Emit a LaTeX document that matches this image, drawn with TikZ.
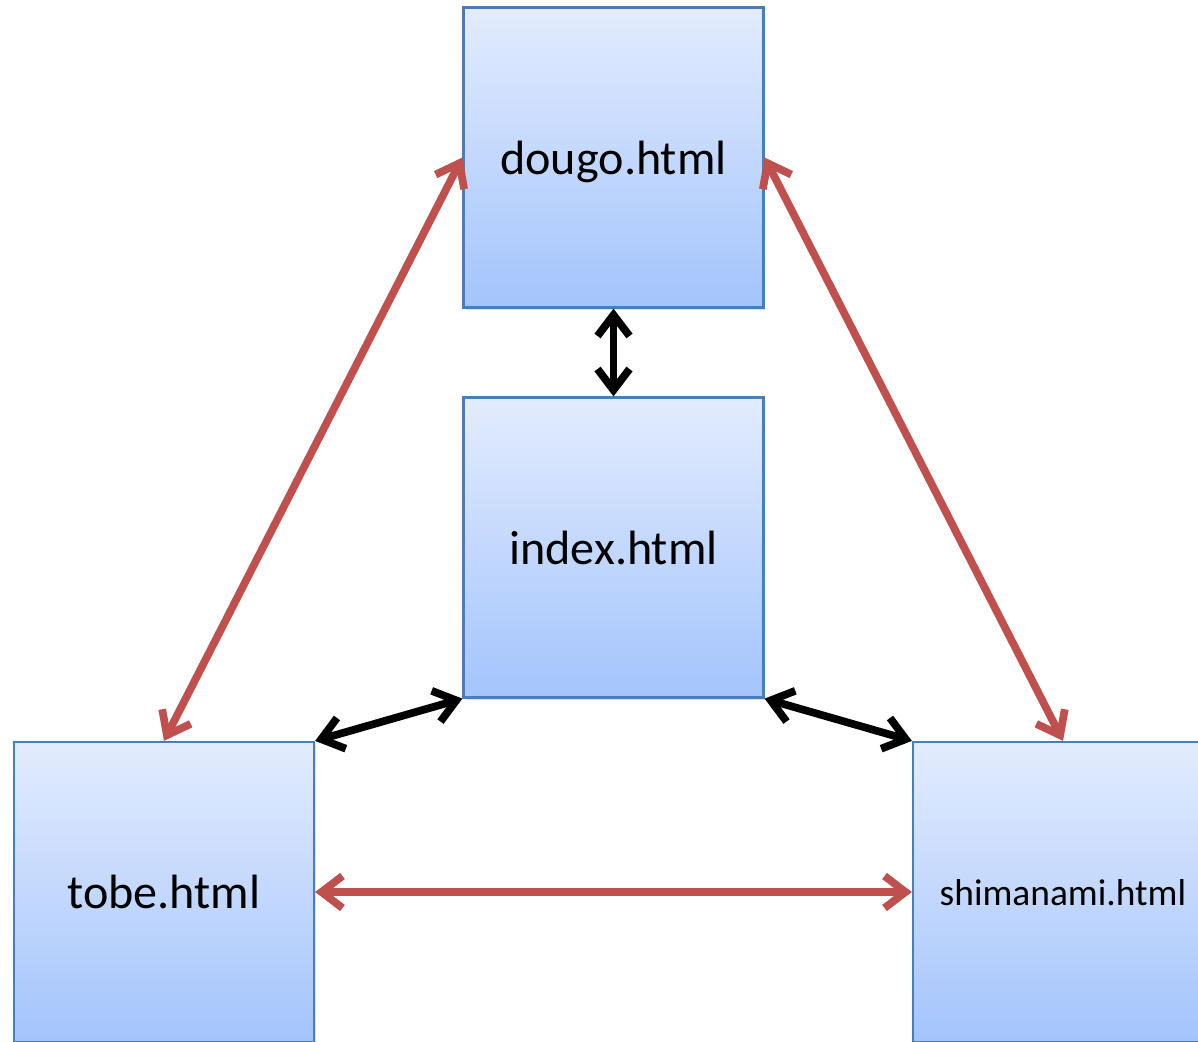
\documentclass[tikz,border=0pt]{standalone}
\usepackage{fontspec}
\setmainfont{Carlito}
\usetikzlibrary{arrows.meta,shadows}
\definecolor{pagetop}{HTML}{E3ECFE}
\definecolor{pagebottom}{HTML}{A3C4FC}
\definecolor{pageline}{HTML}{4A7EBB}
\definecolor{linkred}{HTML}{C0504D}

\begin{document}
\begin{tikzpicture}[x=0.02cm, y=-0.02cm,
    page/.style={draw=pageline, line width=1.3pt, top color=pagetop, bottom color=pagebottom,
        minimum width=6cm, minimum height=6cm, inner sep=0pt, text depth=0pt,
        font=\fontsize{27.4}{30}\selectfont,
        drop shadow={opacity=0.25, shadow xshift=0.04cm, shadow yshift=-0.06cm}},
    link/.style={line width=4.4pt, line cap=round, line join=round,
        {Straight Barb[length=0.42cm, width=0.64cm]}-{Straight Barb[length=0.42cm, width=0.64cm]}}]
    \useasboundingbox (0,0) rectangle (1198,1042);
    \clip (0,0) rectangle (1198,1042);

    % Pages
    \node[page] (dougo) at (613.5,157.5) {dougo.html};
    \node[page] (index) at (613.5,547.5) {index.html};
    \node[page] (tobe) at (164,892) {tobe.html};
    \node[page, font=\fontsize{21.3}{24}\selectfont] (shimanami) at (1063,892) {shimanami.html};

    % Links between the outer pages
    \draw[link, linkred] (dougo.west) -- (tobe.north);
    \draw[link, linkred] (dougo.east) -- (shimanami.north);
    \draw[link, linkred] (tobe.east) -- (shimanami.west);

    % Links to index
    \draw[link, black] (dougo.south) -- (index.north);
    \draw[link, black] (index.south west) -- (tobe.north east);
    \draw[link, black] (index.south east) -- (shimanami.north west);
\end{tikzpicture}
\end{document}
